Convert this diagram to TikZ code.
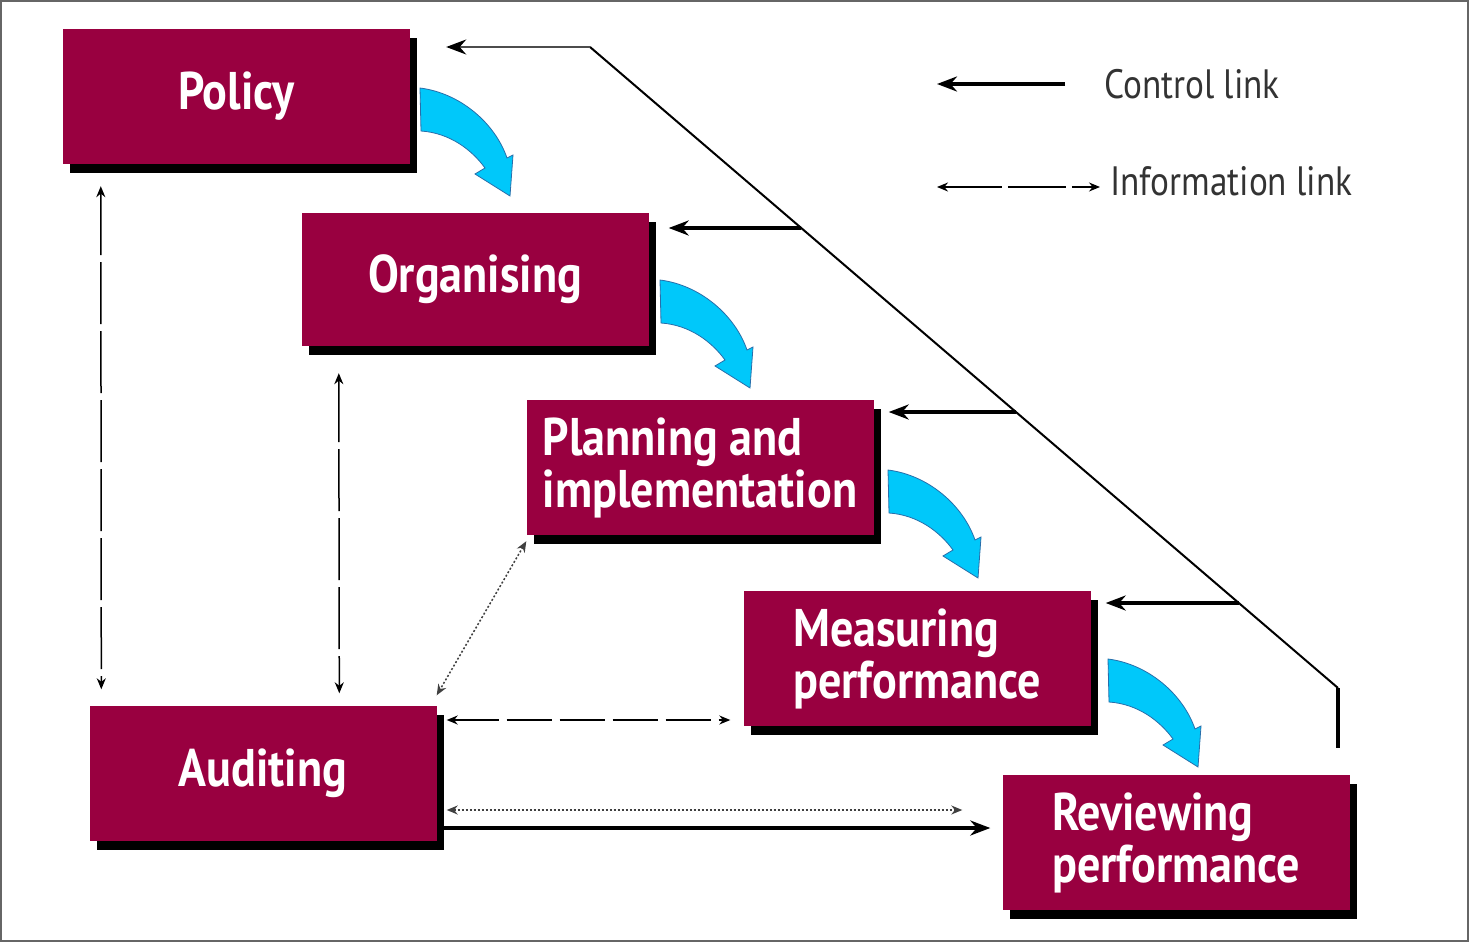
\documentclass[tikz,border=0pt]{standalone}
\usepackage{fontspec}
\setmainfont{PT Sans}
\newfontfamily\boxfont[FakeStretch=0.87]{PT Sans}
\newfontfamily\legfont[FakeStretch=0.86]{PT Sans}
\usetikzlibrary{arrows.meta,shadows,calc}
\definecolor{maroon}{RGB}{153,0,64}
\definecolor{cyanfill}{RGB}{0,200,250}
\definecolor{cyanedge}{RGB}{40,110,170}
\tikzset{
  procbox/.style={fill=maroon, text=white, align=left, inner sep=0pt,
    minimum width=347, minimum height=135,
    font=\boxfont\bfseries\fontsize{53}{52}\selectfont,
    drop shadow={shadow xshift=7pt, shadow yshift=-9pt, opacity=1, fill=black}},
  legtext/.style={font=\legfont\fontsize{41}{45}\selectfont, text=black!80, inner sep=0pt, anchor=base west},
  ctrl/.style={line width=3.5, -{Stealth[length=20,width=15]}},
  ctrlline/.style={line width=2},
  infodash/.style={line width=1.5, {Stealth[length=11,width=9]}-{Stealth[length=11,width=9]}, dash pattern=on 62pt off 7pt},
  infodot/.style={line width=1.5, {Stealth[length=11,width=9]}-{Stealth[length=11,width=9]}, dash pattern=on 2pt off 2pt, black!75},
  flowarrow/.pic={\filldraw[fill=cyanfill, draw=cyanedge, line width=0.8]
    (0,0) .. controls (40,5) and (75,35) .. (87,70) -- (93,67) -- (90,108) -- (55,86) -- (65,80)
    .. controls (52,62) and (30,45) .. (1,43) -- cycle;}
}
\begin{document}
\begin{tikzpicture}[x=1pt,y=-1pt]
\useasboundingbox (0,0) rectangle (1469,942);
\draw[black!60, line width=2] (1,1) rectangle (1468,941);

% boxes
\node[procbox] (policy) at (236.5,96.5) {Policy};
\node[procbox, minimum height=133] (organising) at (475,279.5) {Organising};
\node[procbox] (planning) at (700,467.5) {Planning and\\implementation};
\node[procbox] (measuring) at (917,658.5) {Measuring\\performance};
\node[procbox] (auditing) at (263,773) {Auditing};
\node[procbox] (reviewing) at (1176,842.5) {Reviewing\\performance};

% flow arrows
\pic at (420,88) {flowarrow};
\pic at (660,280) {flowarrow};
\pic at (888,470) {flowarrow};
\pic at (1108,659) {flowarrow};

% control link line
\coordinate (ctop) at (590,47);
\coordinate (cbend) at (1338,688);
\coordinate (cend) at (1338,748);
\coordinate (b1) at (801,228);
\coordinate (b2) at (1016,412);
\coordinate (b3) at (1239,603);
\draw[ctrlline] (ctop) -- (cbend);
\draw[line width=3.5] (cbend) -- (cend);
\draw[line width=2, black!70, -{Stealth[length=20,width=15,black]}, shorten >=36] (ctop) -- (ctop -| policy.east);
\draw[ctrl, shorten >=20] (b1) -- (b1 -| organising.east);
\draw[ctrl, shorten >=15] (b2) -- (b2 -| planning.east);
\draw[ctrl, shorten >=15] (b3) -- (b3 -| measuring.east);

% information links
\draw[infodash] ($(policy.south west)+(38,22)$) -- ($(auditing.north west)+(12,-16)$);
\draw[infodash] ($(organising.south west)+(37.5,27)$) -- ($(auditing.north west)+(250,-12)$);
\draw[infodot] ($(planning.south west)+(0,6)$) -- ($(auditing.north east)+(0,-10)$);
\draw[infodash, dash pattern=on 45pt off 8pt] ($(auditing.east)+(10,-53)$) -- ($(measuring.west)+(-13,61.5)$);
\draw[infodot] ($(auditing.east)+(10,37)$) -- ($(reviewing.west)+(-40,-32.5)$);
\draw[ctrl] ($(auditing.east)+(3,55)$) -- ($(reviewing.west)+(-12,-14.5)$);

% legend
\coordinate (l1a) at (1065,84);
\coordinate (l1b) at (937,84);
\coordinate (l2a) at (937,187);
\coordinate (l2b) at (1100,187);
\draw[ctrl] (l1a) -- (l1b);
\draw[infodash, dash pattern=on 58pt off 6pt] (l2a) -- (l2b);
\node[legtext] (lctl) at (1104,98) {Control link};
\node[legtext] (linf) at (1110,195) {Information link};
\end{tikzpicture}
\end{document}
